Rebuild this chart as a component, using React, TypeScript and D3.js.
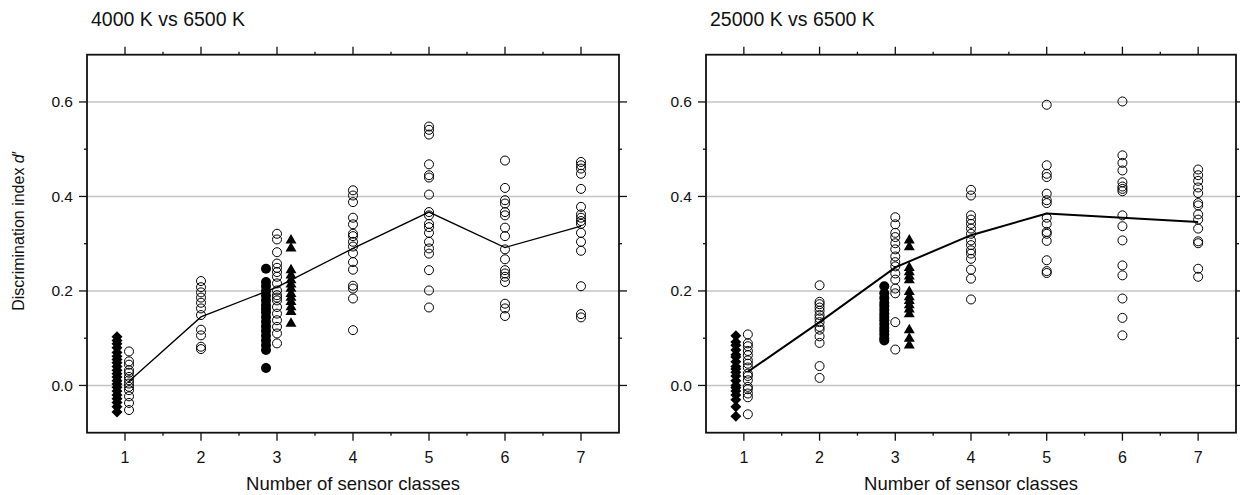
import React from "react";
import * as d3 from "d3";

// x categories and tick labels
const categories = [1, 2, 3, 4, 5, 6, 7];
const xTickLabels = ["1", "2", "3", "4", "5", "6", "7"];
const yTicks = [0, 0.2, 0.4, 0.6];
const yTickLabels = ["0.0", "0.2", "0.4", "0.6"];
const yMinor = [0.1, 0.3, 0.5];

// ---- left panel: 4000 K vs 6500 K ----
const leftDiamonds1 = [0.103, 0.095, 0.088, 0.08, 0.07, 0.062, 0.055, 0.048, 0.04, 0.032, 0.025, 0.018, 0.01, 0.003, -0.004, -0.012, -0.02, -0.028, -0.036, -0.045, -0.056];
const leftOpen = [
  [0.072, 0.051, 0.044, 0.032, 0.027, 0.018, 0.011, 0.004, -0.003, -0.01, -0.023, -0.037, -0.052],
  [0.221, 0.208, 0.197, 0.186, 0.175, 0.163, 0.149, 0.118, 0.106, 0.082, 0.077],
  [0.321, 0.309, 0.282, 0.258, 0.249, 0.24, 0.23, 0.216, 0.201, 0.191, 0.186, 0.18, 0.166, 0.152, 0.138, 0.124, 0.11, 0.089],
  [0.413, 0.402, 0.388, 0.355, 0.341, 0.321, 0.316, 0.304, 0.294, 0.28, 0.261, 0.245, 0.211, 0.205, 0.184, 0.117],
  [0.548, 0.541, 0.531, 0.468, 0.445, 0.44, 0.404, 0.367, 0.36, 0.342, 0.335, 0.323, 0.304, 0.29, 0.279, 0.244, 0.201, 0.165],
  [0.476, 0.418, 0.392, 0.385, 0.367, 0.36, 0.334, 0.316, 0.288, 0.267, 0.244, 0.237, 0.23, 0.219, 0.173, 0.163, 0.147],
  [0.473, 0.466, 0.459, 0.448, 0.416, 0.378, 0.362, 0.355, 0.348, 0.342, 0.323, 0.304, 0.285, 0.21, 0.151, 0.144],
];
const leftFilled3 = [0.247, 0.219, 0.21, 0.2, 0.19, 0.18, 0.17, 0.162, 0.155, 0.145, 0.135, 0.125, 0.115, 0.105, 0.095, 0.085, 0.075, 0.037];
const leftTriangles3 = [0.307, 0.29, 0.244, 0.233, 0.223, 0.214, 0.205, 0.194, 0.186, 0.177, 0.166, 0.156, 0.131];
const leftMeans = [0.009, 0.145, 0.208, 0.29, 0.367, 0.292, 0.337];

// ---- right panel: 25000 K vs 6500 K ----
const rightDiamonds1 = [0.105, 0.092, 0.085, 0.075, 0.065, 0.06, 0.05, 0.04, 0.035, 0.028, 0.02, 0.01, 0.0, -0.005, -0.012, -0.02, -0.03, -0.045, -0.065];
const rightOpen = [
  [0.108, 0.089, 0.083, 0.073, 0.064, 0.053, 0.046, 0.038, 0.025, 0.02, 0.011, -0.003, -0.008, -0.017, -0.025, -0.061],
  [0.212, 0.177, 0.172, 0.165, 0.158, 0.149, 0.142, 0.134, 0.124, 0.118, 0.104, 0.09, 0.041, 0.016],
  [0.356, 0.341, 0.323, 0.314, 0.301, 0.288, 0.273, 0.261, 0.252, 0.237, 0.224, 0.205, 0.195, 0.134, 0.076],
  [0.414, 0.402, 0.36, 0.351, 0.342, 0.332, 0.321, 0.307, 0.297, 0.286, 0.279, 0.268, 0.245, 0.226, 0.182],
  [0.594, 0.466, 0.448, 0.441, 0.406, 0.392, 0.386, 0.355, 0.342, 0.325, 0.321, 0.306, 0.265, 0.242, 0.238],
  [0.601, 0.487, 0.471, 0.455, 0.43, 0.421, 0.416, 0.411, 0.36, 0.337, 0.307, 0.254, 0.233, 0.184, 0.143, 0.106],
  [0.457, 0.445, 0.433, 0.419, 0.407, 0.386, 0.381, 0.362, 0.351, 0.332, 0.305, 0.301, 0.247, 0.23],
];
const rightFilled3 = [0.21, 0.195, 0.185, 0.175, 0.168, 0.16, 0.152, 0.145, 0.138, 0.13, 0.122, 0.115, 0.108, 0.1, 0.095];
const rightTriangles3 = [0.307, 0.293, 0.249, 0.24, 0.231, 0.223, 0.198, 0.187, 0.179, 0.17, 0.161, 0.151, 0.117, 0.099, 0.085];
const rightMeans = [0.029, 0.134, 0.25, 0.318, 0.364, 0.355, 0.346];

const FONT = "'Liberation Sans', Arial, sans-serif";
const TOP = 54.7;
const BOTTOM = 432.7;

function Panel({ x0, x1, title, diamonds, open, filled, triangles, means, lineWidth }) {
  const x = d3.scaleLinear().domain([0.5, 7.5]).range([x0, x1]);
  const y = d3.scaleLinear().domain([-0.1, 0.7]).range([BOTTOM, TOP]);

  // pixel offsets of the side-by-side groups
  const openX = (c) => x(c) + (c === 1 ? 4 : 0);
  const diamondPath = d3.symbol(d3.symbolSquare, 60)();
  const trianglePath = d3.symbol(d3.symbolTriangle, 52)();

  const line = d3.line<number>()
    .x((d, i) => openX(categories[i]))
    .y((d) => y(d));

  const minorX = d3.range(1.5, 7, 1);

  return (
    <g>
      <text x={x0 + 4} y={26} fontSize={19.5} fontFamily={FONT} fill="#111">{title}</text>

      {/* gridlines */}
      {yTicks.map((t) => (
        <line key={"g" + t} x1={x0} x2={x1} y1={y(t)} y2={y(t)} stroke="#c4c4c4" strokeWidth={1.6} />
      ))}

      {/* mean line */}
      <path d={line(means)} fill="none" stroke="#000" strokeWidth={lineWidth} />

      {/* data */}
      {diamonds.map((v, i) => (
        <path key={"d" + i} d={diamondPath} transform={`translate(${x(1) - 8},${y(v)}) rotate(45)`} fill="#000" />
      ))}
      {filled.map((v, i) => (
        <circle key={"f" + i} cx={x(3) - 11} cy={y(v)} r={5} fill="#000" />
      ))}
      {triangles.map((v, i) => (
        <path key={"t" + i} d={trianglePath} transform={`translate(${x(3) + 14},${y(v)})`} fill="#000" />
      ))}
      {open.map((col, ci) =>
        col.map((v, i) => (
          <circle key={"o" + ci + "_" + i} cx={openX(categories[ci])} cy={y(v)} r={4.5}
            fill="none" stroke="#000" strokeWidth={1} />
        ))
      )}

      {/* frame */}
      <rect x={x0} y={TOP} width={x1 - x0} height={BOTTOM - TOP} fill="none" stroke="#111" strokeWidth={1.8} />

      {/* x ticks bottom + top */}
      {categories.map((c) => (
        <g key={"xt" + c}>
          <line x1={x(c)} x2={x(c)} y1={BOTTOM} y2={BOTTOM + 8} stroke="#111" strokeWidth={1.3} />
          <line x1={x(c)} x2={x(c)} y1={TOP} y2={TOP - 8} stroke="#111" strokeWidth={1.3} />
        </g>
      ))}
      {minorX.map((c) => (
        <g key={"xm" + c}>
          <line x1={x(c)} x2={x(c)} y1={BOTTOM} y2={BOTTOM + 3} stroke="#111" strokeWidth={1.3} />
          <line x1={x(c)} x2={x(c)} y1={TOP} y2={TOP - 3} stroke="#111" strokeWidth={1.3} />
        </g>
      ))}
      {categories.map((c, i) => (
        <text key={"xl" + c} x={x(c)} y={463} textAnchor="middle" fontSize={16} fontFamily={FONT} fill="#111">
          {xTickLabels[i]}
        </text>
      ))}

      {/* y ticks left + right */}
      {yTicks.map((t, i) => (
        <g key={"yt" + t}>
          <line x1={x0} x2={x0 - 8} y1={y(t)} y2={y(t)} stroke="#111" strokeWidth={1.3} />
          <line x1={x1} x2={x1 + 8} y1={y(t)} y2={y(t)} stroke="#111" strokeWidth={1.3} />
          <text x={x0 - 14} y={y(t)} dy="0.35em" textAnchor="end" fontSize={15.5} fontFamily={FONT} fill="#111">
            {yTickLabels[i]}
          </text>
        </g>
      ))}
      {yMinor.map((t) => (
        <g key={"ym" + t}>
          <line x1={x0} x2={x0 - 3} y1={y(t)} y2={y(t)} stroke="#111" strokeWidth={1.3} />
          <line x1={x1} x2={x1 + 3} y1={y(t)} y2={y(t)} stroke="#111" strokeWidth={1.3} />
        </g>
      ))}

      <text x={(x0 + x1) / 2} y={490} textAnchor="middle" fontSize={18.5} fontFamily={FONT} fill="#111">
        Number of sensor classes
      </text>
    </g>
  );
}

export default function App() {
  return (
    <svg width={1240} height={495} style={{ position: "absolute", left: 0, top: 0, background: "#fff" }}>
      <rect width={1240} height={495} fill="#fff" />
      <Panel x0={87} x1={619} title="4000 K vs 6500 K" diamonds={leftDiamonds1} open={leftOpen}
        filled={leftFilled3} triangles={leftTriangles3} means={leftMeans} lineWidth={1.3} />
      <Panel x0={706} x1={1236} title="25000 K vs 6500 K" diamonds={rightDiamonds1} open={rightOpen}
        filled={rightFilled3} triangles={rightTriangles3} means={rightMeans} lineWidth={2} />
      <text transform="translate(24,231) rotate(-90)" textAnchor="middle" fontSize={16} fontFamily={FONT} fill="#111">
        Discrimination index <tspan fontStyle="italic">d</tspan>′
      </text>
    </svg>
  );
}
